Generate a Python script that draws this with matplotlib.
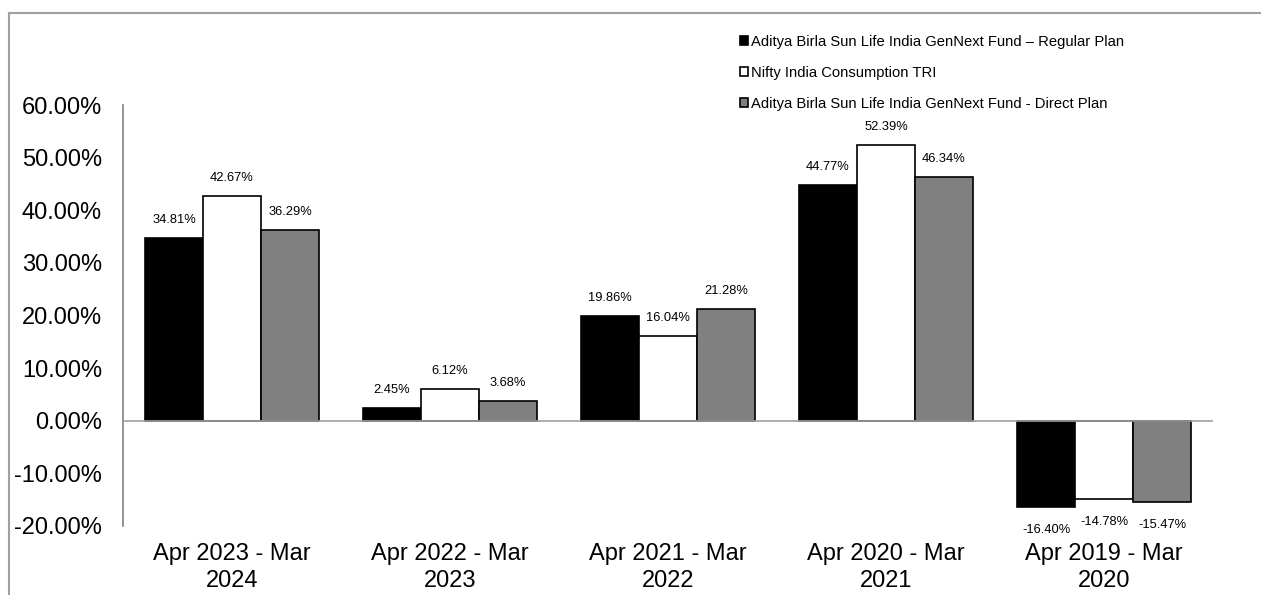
import matplotlib
matplotlib.use("Agg")
import matplotlib.pyplot as plt
import numpy as np
from matplotlib.patches import Patch
from matplotlib.lines import Line2D
from matplotlib import font_manager

plt.rcParams['font.family'] = ['Liberation Sans', 'DejaVu Sans']

categories = ["Apr 2023 - Mar\n2024", "Apr 2022 - Mar\n2023", "Apr 2021 - Mar\n2022",
              "Apr 2020 - Mar\n2021", "Apr 2019 - Mar\n2020"]
series_names = ["Aditya Birla Sun Life India GenNext Fund \u2013 Regular Plan",
                "Nifty India Consumption TRI",
                "Aditya Birla Sun Life India GenNext Fund - Direct Plan"]
regular = [34.81, 2.45, 19.86, 44.77, -16.40]
nifty = [42.67, 6.12, 16.04, 52.39, -14.78]
direct = [36.29, 3.68, 21.28, 46.34, -15.47]
colors = ["#000000", "#ffffff", "#808080"]
yticks = [-20, -10, 0, 10, 20, 30, 40, 50, 60]

names = [f.name for f in font_manager.fontManager.ttflist]
narrow = 'Liberation Sans Narrow' in names
lab_family = ['Liberation Sans Narrow', 'Liberation Sans'] if narrow else ['Liberation Sans']
lab_size = 11 if narrow else 9.3

fig = plt.figure(figsize=(12.61, 5.95), dpi=100)
ax = fig.add_axes([0.0975, 0.116, 0.8645, 0.7075])

x = np.arange(len(categories))
w = 0.266
for i, (vals, c) in enumerate(zip([regular, nifty, direct], colors)):
    pos = x + (i - 1) * w
    ax.bar(pos, vals, width=w, color=c, edgecolor='black', linewidth=1.2, zorder=2)
    for p, v in zip(pos, vals):
        if v >= 0:
            ax.annotate(f"{v:.2f}%", (p, v), xytext=(0, 12), textcoords='offset pixels',
                        ha='center', va='bottom', fontsize=lab_size, family=lab_family)
        else:
            ax.annotate(f"{v:.2f}%", (p, v), xytext=(0, -17), textcoords='offset pixels',
                        ha='center', va='top', fontsize=lab_size, family=lab_family)

ax.set_xlim(-0.5, len(categories) - 0.5)
ax.set_ylim(-20, 60)
ax.set_yticks(yticks)
ax.set_yticklabels([f"{t:.2f}%" for t in yticks], fontsize=17)
ax.set_xticks(x)
ax.set_xticklabels(categories, fontsize=17, linespacing=1.32)
ax.tick_params(axis='both', length=0)
ax.tick_params(axis='y', pad=15)
ax.tick_params(axis='x', pad=12)
for s in ['top', 'right', 'bottom']:
    ax.spines[s].set_visible(False)
ax.spines['left'].set_color('#808080')
ax.spines['left'].set_linewidth(1.2)
ax.axhline(0, color='#a0a0a0', linewidth=1.2, zorder=3)

# figure border (top and left)
fig.add_artist(Line2D([9/1261, 9/1261], [0, 1 - 13/595], transform=fig.transFigure,
                      color='#a0a0a0', linewidth=1.5))
fig.add_artist(Line2D([9/1261, 1], [1 - 13/595, 1 - 13/595], transform=fig.transFigure,
                      color='#a0a0a0', linewidth=1.5))

handles = [Patch(facecolor=c, edgecolor='black', linewidth=1.2) for c in colors]
fig.legend(handles, series_names, loc='upper left', bbox_to_anchor=(740/1261, 1 - 35/595),
           frameon=False, fontsize=10.6, handlelength=0.55, handleheight=0.55,
           handletextpad=0.2, labelspacing=1.15, borderaxespad=0, borderpad=0)

fig.savefig("out.png", dpi=100)
